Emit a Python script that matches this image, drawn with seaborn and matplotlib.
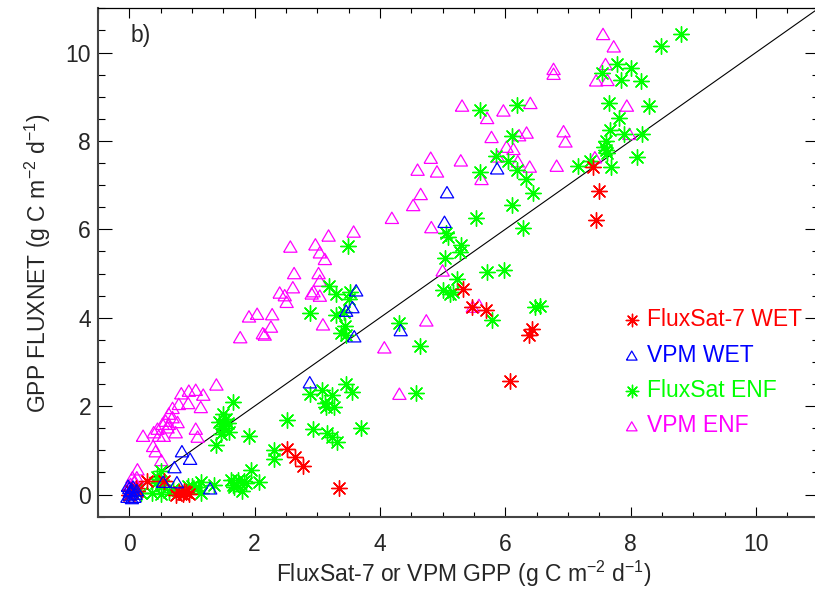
import matplotlib
matplotlib.use("Agg")
import matplotlib.pyplot as plt
from matplotlib.ticker import MultipleLocator
import numpy as np
import pandas as pd
import seaborn as sns

# ---------------- data ----------------
series_names = ["FluxSat-7 WET", "VPM WET", "FluxSat ENF", "VPM ENF"]
series_colors = ["#ff0000", "#0000ff", "#00ff00", "#ff00ff"]

fs7_wet_x = [7.40, 7.50, 7.45, 5.33, 5.47, 5.69, 6.43, 6.38, 6.08, 3.34, 2.52, 2.65, 2.78,
             0.29, 0.55, 0.10, 0.02, 0.80, 0.85, 0.90, 0.75, 0.88, 0.95, 0.13, 0.00]
fs7_wet_y = [7.40, 6.86, 6.20, 4.64, 4.24, 4.18, 3.75, 3.61, 2.56, 0.15, 1.02, 0.84, 0.65,
             0.30, 0.30, 0.15, 0.08, 0.05, 0.02, 0.05, 0.00, 0.08, 0.02, 0.08, 0.00]

vpm_wet_x = [5.87, 5.07, 5.03, 3.62, 3.56, 3.46, 3.59, 4.33, 2.88, 0.84, 0.97, 0.72, 0.54,
             0.76, 1.29, 0.00, 0.02, -0.03, 0.05, 0.10, 0.00, 0.08, -0.02, 0.12, 0.04,
             0.06, 0.01]
vpm_wet_y = [7.38, 6.84, 6.17, 4.62, 4.24, 4.16, 3.58, 3.72, 2.54, 0.98, 0.81, 0.62, 0.29,
             0.28, 0.14, 0.00, 0.05, -0.05, 0.10, 0.02, 0.15, -0.05, 0.20, 0.10, -0.08,
             0.18, 0.08]

fs_enf_x = [8.80, 8.48, 7.79, 8.00, 7.54, 7.84, 8.17, 7.66, 8.29, 7.81, 7.67, 7.90, 8.18,
            7.61, 7.58, 7.63, 7.60, 8.11, 7.16, 7.36, 7.69,
            5.60, 6.19, 6.10, 5.85, 6.05, 6.19, 5.59, 6.33, 6.45, 6.11, 5.54, 6.28, 5.06,
            5.09, 5.29, 5.28, 5.04, 5.71, 5.98, 5.23, 5.00, 5.11, 5.16, 6.48, 6.56, 5.79,
            4.31, 4.64, 4.57,
            3.49, 3.18, 3.30, 3.53, 3.51, 2.88, 3.30, 3.42, 3.45, 3.38, 3.46,
            3.46, 3.56, 3.08, 3.24, 2.88, 3.12, 3.14, 3.26, 2.52, 2.93, 3.16, 3.24, 3.31,
            3.70, 2.31, 2.31, 1.94, 2.07,
            1.65, 1.49, 1.43, 1.57, 1.51, 1.46, 1.59, 1.55, 1.48, 1.91, 1.38,
            1.62, 1.73, 1.83, 1.67, 1.80, 1.65, 1.86, 1.35, 1.14, 1.15, 0.93, 1.00, 1.09,
            0.50, 0.42, 0.53, 0.50, 0.63, 0.37, 0.69, 0.18, 0.45]
fs_enf_y = [10.42, 10.14, 9.74, 9.65, 9.53, 9.38, 9.35, 8.86, 8.80, 8.52, 8.24, 8.15, 8.16,
            8.00, 7.86, 7.72, 7.80, 7.63, 7.43, 7.55, 7.42,
            8.70, 8.81, 8.10, 7.65, 7.55, 7.34, 7.30, 7.14, 6.82, 6.56, 6.25, 6.04, 5.92,
            5.82, 5.65, 5.48, 5.35, 5.03, 5.09, 4.88, 4.62, 4.53, 4.58, 4.24, 4.27, 3.94,
            3.88, 3.35, 2.29,
            5.62, 4.72, 4.54, 4.59, 4.42, 4.11, 4.05, 4.14, 3.82, 3.66, 3.61,
            2.51, 2.33, 2.36, 2.24, 2.28, 2.08, 1.97, 1.98, 1.68, 1.49, 1.40, 1.30, 1.19,
            1.51, 1.00, 0.80, 0.55, 0.29,
            2.09, 1.83, 1.64, 1.62, 1.50, 1.37, 1.42, 1.70, 1.55, 1.33, 1.11,
            0.32, 0.32, 0.31, 0.17, 0.08, 0.21, 0.27, 0.22, 0.29, 0.03, 0.20, 0.19, 0.16,
            0.54, 0.26, 0.21, 0.02, 0.05, 0.03, 0.12, 0.03, 0.40]

vpm_enf_x = [7.56, 7.73, 6.77, 6.77, 7.60, 7.45, 7.63, 7.94, 6.93, 6.96, 7.98, 7.43, 6.82,
             5.31, 5.97, 5.71, 6.40, 5.78, 6.22, 6.34, 6.02, 6.13, 5.88, 6.20, 6.39, 5.62,
             4.81, 5.29, 4.60, 4.91, 4.65, 4.53, 4.19, 4.82, 5.00, 5.48, 5.58, 4.74, 4.07,
             4.31,
             3.58, 3.18, 2.57, 2.97, 3.04, 3.12, 2.63, 3.02, 3.04, 2.61, 2.40, 2.48, 2.51,
             2.91, 2.94, 3.04, 3.09, 1.91, 2.04, 2.28, 2.26, 2.13, 2.16, 1.77,
             1.39, 0.83, 0.95, 1.06, 1.18, 0.94, 1.14, 0.79, 0.69, 0.63, 0.69, 0.58, 0.77,
             0.63, 0.53, 0.61, 0.45, 0.39, 0.22, 0.74, 0.55, 0.47, 1.06, 1.09, 0.38, 0.42,
             0.51, 0.13, 0.05, 0.12, 0.08, 0.00, 0.10, 0.02, 0.04]
vpm_enf_y = [10.42, 10.14, 9.63, 9.52, 9.74, 9.37, 9.38, 8.80, 8.22, 7.99, 8.16, 7.63, 7.44,
             8.80, 8.69, 8.52, 8.86, 8.09, 8.13, 8.19, 7.87, 7.82, 7.65, 7.54, 7.42, 7.14,
             7.62, 7.56, 7.35, 7.31, 6.80, 6.55, 6.26, 6.05, 5.07, 4.25, 4.29, 3.94, 3.33,
             2.28,
             5.95, 5.86, 5.61, 5.66, 5.48, 5.33, 5.01, 5.01, 4.84, 4.69, 4.57, 4.51, 4.36,
             4.55, 4.60, 4.50, 3.85, 4.03, 4.09, 4.08, 3.80, 3.65, 3.62, 3.56,
             2.49, 2.29, 2.35, 2.37, 2.26, 2.07, 1.98, 2.05, 1.96, 1.83, 1.75, 1.67, 1.64,
             1.60, 1.60, 1.52, 1.49, 1.41, 1.33, 1.41, 1.33, 1.33, 1.49, 1.31, 1.10, 0.98,
             0.78, 0.57, 0.39, 0.39, 0.28, 0.20, 0.17, 0.24, 0.10]

x_ticks = [0, 2, 4, 6, 8, 10]
y_ticks = [0, 2, 4, 6, 8, 10]

# ---------------- styling ----------------
sns.set_theme(style="ticks")
plt.rcParams["font.family"] = ["Liberation Sans", "DejaVu Sans"]
FS = 16.5

frames = []
for name, xs, ys in [("FluxSat-7 WET", fs7_wet_x, fs7_wet_y),
                     ("VPM WET", vpm_wet_x, vpm_wet_y),
                     ("FluxSat ENF", fs_enf_x, fs_enf_y),
                     ("VPM ENF", vpm_enf_x, vpm_enf_y)]:
    frames.append(pd.DataFrame({"x": xs, "y": ys, "series": name}))
df = pd.concat(frames, ignore_index=True)

tri = [(-1.0, -0.85), (1.0, -0.85), (0.0, 0.85), (-1.0, -0.85)]
ast = (8, 2, 0)
markers = {"FluxSat-7 WET": ast, "VPM WET": tri, "FluxSat ENF": ast, "VPM ENF": tri}
sizes = {"FluxSat-7 WET": 125, "VPM WET": 92, "FluxSat ENF": 125, "VPM ENF": 92}
colors = dict(zip(series_names, series_colors))

fig = plt.figure(figsize=(8.15, 5.9), dpi=100)
ax = fig.add_axes([0.1202, 0.1244, 0.8842, 0.8615])

draw_order = ["VPM ENF", "FluxSat ENF", "FluxSat-7 WET", "VPM WET"]
for name in draw_order:
    sub = df[df["series"] == name]
    c = colors[name]
    if markers[name] is ast:
        kw = dict(color=c, linewidth=1.0)
    else:
        kw = dict(facecolor="none", edgecolor=c, color=c, linewidth=0.9)
    sns.scatterplot(data=sub, x="x", y="y", marker=markers[name], s=sizes[name],
                    label=name, ax=ax, zorder=3, **kw)

# 1:1 line
ax.plot([0, 11.5], [0, 11.5], color="black", lw=0.8, zorder=2)

ax.set_xlim(-0.5, 11.0)
ax.set_ylim(-0.5, 11.0)
ax.xaxis.set_minor_locator(MultipleLocator(0.5))
ax.yaxis.set_minor_locator(MultipleLocator(0.5))
ax.set_xticks(x_ticks)
ax.set_yticks(y_ticks)
ax.set_xticklabels([str(t) for t in x_ticks])
ax.set_yticklabels([str(t) for t in y_ticks])

ax.tick_params(axis="x", which="major", direction="in", length=7.2, width=0.8,
               top=True, bottom=True, labelsize=FS, pad=12, color="black")
ax.tick_params(axis="x", which="minor", direction="in", length=3.6, width=0.8,
               top=True, bottom=True, color="black")
ax.tick_params(axis="y", which="major", direction="in", length=10.4, width=0.8,
               left=True, right=True, labelsize=FS, pad=5, color="black")
ax.tick_params(axis="y", which="minor", direction="in", length=5.2, width=0.8,
               left=True, right=True, color="black")

for side in ["top", "right"]:
    ax.spines[side].set_visible(True)
    ax.spines[side].set_color("black")
    ax.spines[side].set_linewidth(0.9)
for side in ["left", "bottom"]:
    ax.spines[side].set_color("#444444")
    ax.spines[side].set_linewidth(1.5)

ax.set_xlabel(r"FluxSat-7 or VPM GPP (g C m$^{\mathregular{-2}}$ d$^{\mathregular{-1}}$)",
              fontsize=FS)
ax.set_ylabel(r"GPP FLUXNET (g C m$^{\mathregular{-2}}$ d$^{\mathregular{-1}}$)",
              fontsize=FS)
ax.xaxis.label.set_va("center")
ax.yaxis.label.set_va("center")
ax.xaxis.set_label_coords(0.507, -0.113)
ax.yaxis.set_label_coords(-0.083, 0.499)

ax.text(0.045, 0.946, "b)", transform=ax.transAxes, fontsize=FS, ha="left", va="center")

handles, labels = ax.get_legend_handles_labels()
hmap = dict(zip(labels, handles))
leg = ax.legend([hmap[n] for n in series_names], series_names,
                loc="upper left", bbox_to_anchor=(0.728, 0.41), frameon=False,
                fontsize=FS, handlelength=0.8, handletextpad=0.25, labelspacing=0.54,
                borderpad=0, borderaxespad=0, markerscale=0.8,
                labelcolor=series_colors)

fig.savefig("out.png", dpi=100)
